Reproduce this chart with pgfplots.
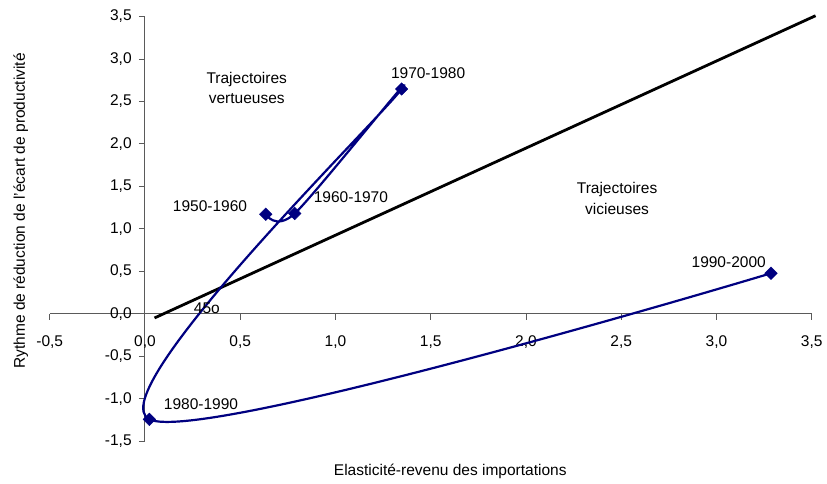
\documentclass[border=0pt]{standalone}
\usepackage{fontspec}
\setmainfont{Liberation Sans}
\usepackage{pgfplots}
\pgfplotsset{compat=1.18}
\definecolor{navy}{RGB}{0,0,128}
\definecolor{axisgray}{RGB}{90,90,90}

\begin{document}
\fontsize{15.5}{18.6}\selectfont
\begin{tikzpicture}[x=1pt,y=1pt]
% fixed frame of the figure
\path[use as bounding box] (-145,-169.3) rectangle (682,313.7);
\begin{axis}[
  anchor=origin, at={(0,0)},
  x=190.5pt, y=84.9pt,
  xmin=-0.5, xmax=3.5, ymin=-1.5, ymax=3.5,
  clip=false,
  axis lines=middle,
  axis line style={-, axisgray, line width=1pt},
  every tick/.style={axisgray, line width=1pt},
  tick align=outside,
  major tick length=6pt,
  xtick={-0.5,0,0.5,1,1.5,2,2.5,3,3.5},
  ytick={-1.5,-1,-0.5,0,0.5,1,1.5,2,2.5,3,3.5},
  hide obscured x ticks=false,
  hide obscured y ticks=false,
  minor tick num=0,
  ticklabel style={font=\fontsize{15.5}{18}\selectfont,
    /pgf/number format/fixed, /pgf/number format/fixed zerofill,
    /pgf/number format/precision=1, /pgf/number format/use comma,
    /pgf/number format/assume math mode=true},
  xticklabel style={yshift=-11pt},
  yticklabel style={xshift=-2pt},
  xlabel={Elasticité-revenu des importations},
  ylabel={Rythme de réduction de l'écart de productivité},
  xlabel style={at={(axis description cs:0.5256,-0.0707)}, anchor=center, font=\fontsize{15.5}{18}\selectfont},
  ylabel style={at={(axis description cs:-0.0380,0.542)}, anchor=center, rotate=90, font=\fontsize{15.5}{18}\selectfont},
  every node/.append style={font=\fontsize{15.5}{18}\selectfont},
]
% 45 degree reference line
\addplot[black, line width=2.8pt, no marks] coordinates {(0.05,-0.05) (3.52,3.51)};
% trajectory by decade
\addplot[navy, line width=2.2pt, smooth,
  mark=square*, mark size=4.4pt,
  mark options={rotate=45, solid, fill=navy, draw=navy, line width=0.5pt}]
  coordinates {
    (0.634,1.171)
    (0.786,1.180)
    (1.347,2.647)
    (0.023,-1.244)
    (3.286,0.476)
  };
\node[anchor=base] at (axis cs:0.341,1.201) {1950-1960};
\node[anchor=base] at (axis cs:1.081,1.307) {1960-1970};
\node[anchor=base] at (axis cs:1.486,2.768) {1970-1980};
\node[anchor=base] at (axis cs:0.294,-1.131) {1980-1990};
\node[anchor=base] at (axis cs:3.064,0.542) {1990-2000};
\node[anchor=base] at (axis cs:0.325,0.0) {45o};
\node[anchor=base] at (axis cs:0.534,2.714) {Trajectoires};
\node[anchor=base] at (axis cs:0.534,2.470) {vertueuses};
\node[anchor=base] at (axis cs:2.478,1.418) {Trajectoires};
\node[anchor=base] at (axis cs:2.478,1.163) {vicieuses};
\end{axis}
\end{tikzpicture}
\end{document}
